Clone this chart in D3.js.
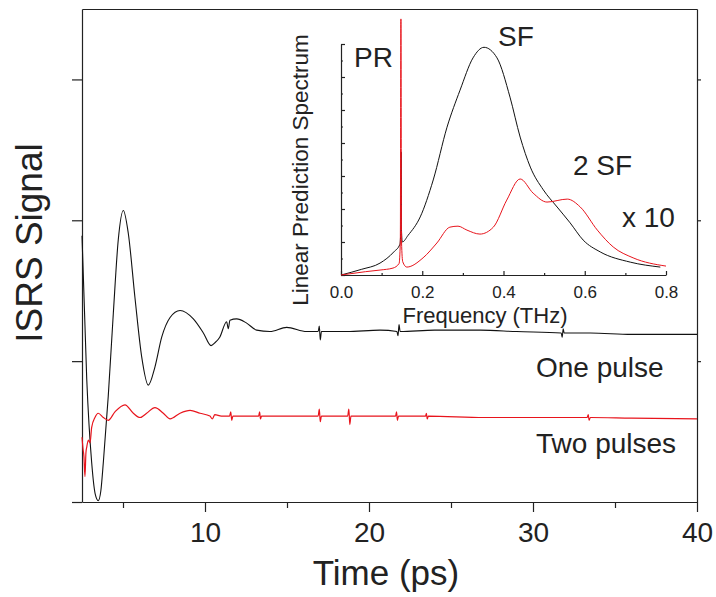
<!DOCTYPE html>
<html>
<head>
<meta charset="utf-8">
<script src="https://cdn.jsdelivr.net/npm/d3@7"></script>
<style>
  body { margin: 0; background: #fff; }
  text { font-family: "Liberation Sans", Arial, sans-serif; fill: #222; }
</style>
</head>
<body>
<div id="chart"></div>
<script>
// main trace: one pulse (black)
var onePulseT = [2.5, 2.79, 3.09, 3.3, 3.49, 3.65, 3.8, 4.1, 4.41, 4.71, 5.02, 5.32, 5.73, 6.14, 6.54, 6.95, 7.36, 7.87, 8.48, 9.29, 9.9, 10.37, 10.6, 10.9, 11.32, 11.42, 11.52, 11.93, 12.54, 13.15, 13.96, 14.98, 16.2, 16.9, 16.97, 17.03, 17.1, 18.64, 20.67, 21.7, 21.77, 21.83, 21.9, 24.0, 26.8, 29.0, 31.72, 31.78, 31.84, 31.9, 33.5, 36.0, 38.0, 40];
var onePulseV = [1.89, 0.87, 0.28, 0.06, 0.01, 0.08, 0.28, 0.75, 1.34, 1.86, 2.07, 1.91, 1.45, 1.03, 0.83, 0.96, 1.17, 1.31, 1.36, 1.30, 1.20, 1.11, 1.13, 1.17, 1.28, 1.23, 1.29, 1.30, 1.27, 1.22, 1.21, 1.24, 1.21, 1.21, 1.25, 1.15, 1.21, 1.21, 1.22, 1.21, 1.18, 1.26, 1.21, 1.22, 1.22, 1.21, 1.20, 1.17, 1.23, 1.20, 1.20, 1.19, 1.19, 1.19];

// main trace: two pulses (red)
var twoPulseT = [2.5, 2.56, 2.62, 2.68, 2.74, 2.79, 2.89, 2.99, 3.09, 3.29, 3.49, 3.8, 4.1, 4.51, 5.12, 5.63, 6.04, 6.44, 6.95, 7.46, 7.87, 8.48, 9.09, 9.7, 10.3, 10.45, 10.6, 11.0, 11.5, 11.57, 11.63, 11.7, 12.3, 13.27, 13.33, 13.38, 13.45, 14.57, 16.9, 16.97, 17.03, 17.1, 18.7, 18.77, 18.83, 18.9, 20.67, 21.62, 21.68, 21.73, 21.8, 23.45, 23.5, 23.55, 23.62, 27.0, 33.3, 33.37, 33.42, 33.5, 36.0, 40];
var twoPulseV = [0.46, 0.38, 0.32, 0.18, 0.35, 0.39, 0.44, 0.42, 0.53, 0.60, 0.63, 0.60, 0.58, 0.64, 0.69, 0.63, 0.60, 0.63, 0.67, 0.63, 0.59, 0.63, 0.65, 0.63, 0.61, 0.59, 0.62, 0.61, 0.61, 0.64, 0.58, 0.61, 0.61, 0.61, 0.64, 0.59, 0.61, 0.61, 0.61, 0.66, 0.57, 0.61, 0.61, 0.66, 0.55, 0.61, 0.61, 0.61, 0.64, 0.58, 0.61, 0.61, 0.63, 0.59, 0.61, 0.60, 0.60, 0.62, 0.58, 0.60, 0.595, 0.59];

var timeTicks = [10, 20, 30, 40];
var timeMinor = [5, 15, 25, 35];
var signalTicks = [0, 1, 2, 3];

// inset: linear prediction spectra
var sfFreq = [0, 0.05, 0.096, 0.13, 0.145, 0.1475, 0.148, 0.1485, 0.151, 0.165, 0.195, 0.227, 0.261, 0.293, 0.325, 0.352, 0.384, 0.416, 0.441, 0.466, 0.498, 0.532, 0.564, 0.596, 0.638, 0.712, 0.786];
var sfAmp = [0, 0.17, 0.36, 0.7, 0.93, 1.5, 3.73, 1.5, 1.0, 1.2, 1.76, 2.88, 4.48, 5.6, 6.58, 6.9, 6.58, 5.39, 4.18, 3.27, 2.58, 2.06, 1.58, 1.06, 0.70, 0.39, 0.24];
var twoSfFreq = [0, 0.06, 0.096, 0.128, 0.143, 0.146, 0.1475, 0.149, 0.152, 0.162, 0.202, 0.236, 0.268, 0.288, 0.31, 0.342, 0.375, 0.408, 0.441, 0.473, 0.507, 0.557, 0.589, 0.631, 0.670, 0.719, 0.8];
var twoSfAmp = [0, 0.1, 0.15, 0.21, 0.35, 1.0, 7.76, 1.0, 0.4, 0.24, 0.52, 0.97, 1.45, 1.48, 1.36, 1.24, 1.45, 2.27, 2.91, 2.48, 2.21, 2.3, 2.06, 1.36, 0.85, 0.52, 0.27];

var freqTicks = [0, 0.2, 0.4, 0.6, 0.8];
var freqMinor = [0.1, 0.3, 0.5, 0.7];
var ampTicks = [0, 1, 2, 3, 4, 5, 6, 7];
var ampMinor = [0.5, 1.5, 2.5, 3.5, 4.5, 5.5, 6.5];

var width = 716, height = 597;
var axisColor = "#222";

var svg = d3.select("#chart")
        .append("svg")
        .attr("width", width)
        .attr("height", height);

svg.append("rect").attr("width", width).attr("height", height).attr("fill", "#fff");

var x = d3.scaleLinear().domain([2.5, 40]).range([82, 697]);
var y = d3.scaleLinear().domain([0, 3.5]).range([502, 9]);

function styleAxis(g, size) {
        g.attr("font-family", "Liberation Sans, Arial, sans-serif")
         .attr("font-size", size);
        g.selectAll("path, line").attr("stroke", axisColor).attr("stroke-width", 1.2);
        g.selectAll("text").attr("fill", axisColor);
}

// frame
svg.append("g")
        .attr("transform", "translate(0,9)")
        .call(d3.axisTop(x).tickValues([]).tickSizeOuter(0))
        .call(styleAxis, 10);

svg.append("g")
        .attr("transform", "translate(697,0)")
        .call(d3.axisRight(y).tickValues(signalTicks.slice(1)).tickSize(4).tickFormat("").tickSizeOuter(0))
        .call(styleAxis, 10);

svg.append("g")
        .attr("transform", "translate(82,0)")
        .call(d3.axisLeft(y).tickValues(signalTicks).tickSize(10).tickFormat("").tickSizeOuter(0))
        .call(styleAxis, 10);

svg.append("g")
        .attr("transform", "translate(0,502)")
        .call(d3.axisBottom(x).tickValues(timeTicks).tickSize(10).tickPadding(10).tickSizeOuter(0))
        .call(styleAxis, 28);

svg.append("g")
        .attr("transform", "translate(0,502)")
        .call(d3.axisBottom(x).tickValues(timeMinor).tickSize(6).tickFormat("").tickSizeOuter(0))
        .call(styleAxis, 10)
        .select(".domain").remove();

var line = d3.line()
        .x(function(d){ return x(d[0]); })
        .y(function(d){ return y(d[1]); })
        .curve(d3.curveMonotoneX);

svg.append("path")
        .attr("d", line(d3.zip(onePulseT, onePulseV)))
        .attr("fill", "none")
        .attr("stroke", "#111")
        .attr("stroke-width", 1.1);

svg.append("path")
        .attr("d", line(d3.zip(twoPulseT, twoPulseV)))
        .attr("fill", "none")
        .attr("stroke", "#e8141c")
        .attr("stroke-width", 1.2);

svg.append("text")
        .attr("transform", "translate(42,243) rotate(-90)")
        .attr("text-anchor", "middle")
        .style("font-size", "37px")
        .text("ISRS Signal");

svg.append("text")
        .attr("x", 386).attr("y", 585)
        .attr("text-anchor", "middle")
        .style("font-size", "35px")
        .text("Time (ps)");

svg.append("text").attr("x", 536).attr("y", 377).style("font-size", "28px").text("One pulse");
svg.append("text").attr("x", 536).attr("y", 453).style("font-size", "28px").text("Two pulses");

// inset
var ix = d3.scaleLinear().domain([0, 0.8]).range([341, 666]);
var iy = d3.scaleLinear().domain([0, 7]).range([275, 44]);

svg.append("g")
        .attr("transform", "translate(0,275)")
        .call(d3.axisBottom(ix).tickValues(freqTicks).tickSize(-4).tickPadding(11).tickFormat(d3.format(".1f")).tickSizeOuter(0))
        .call(styleAxis, 17);

svg.append("g")
        .attr("transform", "translate(0,275)")
        .call(d3.axisBottom(ix).tickValues(freqMinor).tickSize(-2).tickFormat("").tickSizeOuter(0))
        .call(styleAxis, 10)
        .select(".domain").remove();

svg.append("g")
        .attr("transform", "translate(341,0)")
        .call(d3.axisLeft(iy).tickValues(ampTicks).tickSize(-4).tickFormat("").tickSizeOuter(0))
        .call(styleAxis, 10);

svg.append("g")
        .attr("transform", "translate(341,0)")
        .call(d3.axisLeft(iy).tickValues(ampMinor).tickSize(-2).tickFormat("").tickSizeOuter(0))
        .call(styleAxis, 10)
        .select(".domain").remove();

var iline = d3.line()
        .x(function(d){ return ix(d[0]); })
        .y(function(d){ return iy(d[1]); })
        .curve(d3.curveMonotoneX);

svg.append("path")
        .attr("d", iline(d3.zip(sfFreq, sfAmp)))
        .attr("fill", "none")
        .attr("stroke", "#111")
        .attr("stroke-width", 1);

svg.append("path")
        .attr("d", iline(d3.zip(twoSfFreq, twoSfAmp)))
        .attr("fill", "none")
        .attr("stroke", "#e8141c")
        .attr("stroke-width", 1);

svg.append("text")
        .attr("transform", "translate(308,170) rotate(-90)")
        .attr("text-anchor", "middle")
        .style("font-size", "22.5px")
        .text("Linear Prediction Spectrum");

svg.append("text")
        .attr("x", 485).attr("y", 323)
        .attr("text-anchor", "middle")
        .style("font-size", "22px")
        .text("Frequency (THz)");

svg.append("text").attr("x", 354).attr("y", 67).style("font-size", "28px").text("PR");
svg.append("text").attr("x", 498).attr("y", 46).style("font-size", "28px").text("SF");
svg.append("text").attr("x", 573).attr("y", 175).style("font-size", "28px").text("2 SF");
svg.append("text").attr("x", 622).attr("y", 227).style("font-size", "28px").text("x 10");
</script>
</body>
</html>
